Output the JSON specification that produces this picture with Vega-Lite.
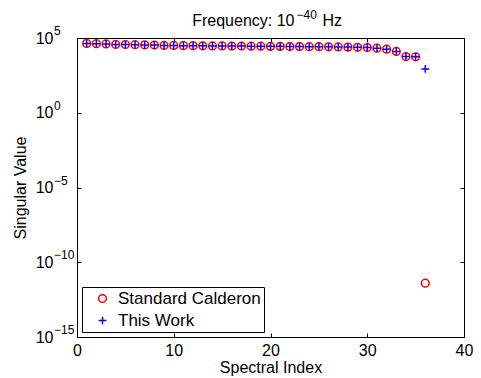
{
  "$schema": "https://vega.github.io/schema/vega-lite/v6.json",
  "width": 387,
  "height": 299,
  "autosize": "none",
  "padding": {"left": 77, "top": 38, "right": 17, "bottom": 41},
  "background": "white",
  "config": {
    "font": "Liberation Sans",
    "view": {"stroke": "black", "strokeWidth": 1},
    "axis": {
      "labelFont": "Liberation Sans",
      "labelFontSize": 16,
      "labelColor": "black",
      "titleFont": "Liberation Sans",
      "titleFontSize": 16,
      "titleFontWeight": "normal",
      "titleColor": "black",
      "domainColor": "black",
      "tickColor": "black",
      "grid": false,
      "tickSize": -4
    }
  },
  "datasets": {
    "sv": [
      {"series": "Standard Calderon", "index": 1, "value": 43650},
      {"series": "Standard Calderon", "index": 2, "value": 41690},
      {"series": "Standard Calderon", "index": 3, "value": 39810},
      {"series": "Standard Calderon", "index": 4, "value": 37150},
      {"series": "Standard Calderon", "index": 5, "value": 36310},
      {"series": "Standard Calderon", "index": 6, "value": 35480},
      {"series": "Standard Calderon", "index": 7, "value": 34670},
      {"series": "Standard Calderon", "index": 8, "value": 33880},
      {"series": "Standard Calderon", "index": 9, "value": 31620},
      {"series": "Standard Calderon", "index": 10, "value": 31620},
      {"series": "Standard Calderon", "index": 11, "value": 30900},
      {"series": "Standard Calderon", "index": 12, "value": 30900},
      {"series": "Standard Calderon", "index": 13, "value": 30200},
      {"series": "Standard Calderon", "index": 14, "value": 29510},
      {"series": "Standard Calderon", "index": 15, "value": 29510},
      {"series": "Standard Calderon", "index": 16, "value": 28840},
      {"series": "Standard Calderon", "index": 17, "value": 28840},
      {"series": "Standard Calderon", "index": 18, "value": 28180},
      {"series": "Standard Calderon", "index": 19, "value": 28180},
      {"series": "Standard Calderon", "index": 20, "value": 27540},
      {"series": "Standard Calderon", "index": 21, "value": 27540},
      {"series": "Standard Calderon", "index": 22, "value": 26920},
      {"series": "Standard Calderon", "index": 23, "value": 26920},
      {"series": "Standard Calderon", "index": 24, "value": 26300},
      {"series": "Standard Calderon", "index": 25, "value": 26300},
      {"series": "Standard Calderon", "index": 26, "value": 25700},
      {"series": "Standard Calderon", "index": 27, "value": 25120},
      {"series": "Standard Calderon", "index": 28, "value": 24550},
      {"series": "Standard Calderon", "index": 29, "value": 23990},
      {"series": "Standard Calderon", "index": 30, "value": 22910},
      {"series": "Standard Calderon", "index": 31, "value": 20890},
      {"series": "Standard Calderon", "index": 32, "value": 17780},
      {"series": "Standard Calderon", "index": 33, "value": 12590},
      {"series": "Standard Calderon", "index": 34, "value": 5750},
      {"series": "Standard Calderon", "index": 35, "value": 5500},
      {"series": "Standard Calderon", "index": 36, "value": 4e-12},
      {"series": "This Work", "index": 1, "value": 43650},
      {"series": "This Work", "index": 2, "value": 41690},
      {"series": "This Work", "index": 3, "value": 39810},
      {"series": "This Work", "index": 4, "value": 37150},
      {"series": "This Work", "index": 5, "value": 36310},
      {"series": "This Work", "index": 6, "value": 35480},
      {"series": "This Work", "index": 7, "value": 34670},
      {"series": "This Work", "index": 8, "value": 33880},
      {"series": "This Work", "index": 9, "value": 31620},
      {"series": "This Work", "index": 10, "value": 31620},
      {"series": "This Work", "index": 11, "value": 30900},
      {"series": "This Work", "index": 12, "value": 30900},
      {"series": "This Work", "index": 13, "value": 30200},
      {"series": "This Work", "index": 14, "value": 29510},
      {"series": "This Work", "index": 15, "value": 29510},
      {"series": "This Work", "index": 16, "value": 28840},
      {"series": "This Work", "index": 17, "value": 28840},
      {"series": "This Work", "index": 18, "value": 28180},
      {"series": "This Work", "index": 19, "value": 28180},
      {"series": "This Work", "index": 20, "value": 27540},
      {"series": "This Work", "index": 21, "value": 27540},
      {"series": "This Work", "index": 22, "value": 26920},
      {"series": "This Work", "index": 23, "value": 26920},
      {"series": "This Work", "index": 24, "value": 26300},
      {"series": "This Work", "index": 25, "value": 26300},
      {"series": "This Work", "index": 26, "value": 25700},
      {"series": "This Work", "index": 27, "value": 25120},
      {"series": "This Work", "index": 28, "value": 24550},
      {"series": "This Work", "index": 29, "value": 23990},
      {"series": "This Work", "index": 30, "value": 22910},
      {"series": "This Work", "index": 31, "value": 20890},
      {"series": "This Work", "index": 32, "value": 17780},
      {"series": "This Work", "index": 33, "value": 12590},
      {"series": "This Work", "index": 34, "value": 5750},
      {"series": "This Work", "index": 35, "value": 5500},
      {"series": "This Work", "index": 36, "value": 850}
    ],
    "exps": [
      {"tv": 1e5, "exp": "5"},
      {"tv": 1, "exp": "0"},
      {"tv": 1e-5, "exp": "−5"},
      {"tv": 1e-10, "exp": "−10"},
      {"tv": 1e-15, "exp": "−15"}
    ],
    "ttl": [
      {"a": "Frequency: 10", "b": "−40", "c": "Hz"}
    ]
  },
  "layer": [
    {
      "data": {"name": "sv"},
      "mark": {"type": "point", "filled": false, "strokeWidth": 1.5, "size": 60, "opacity": 1},
      "encoding": {
        "x": {"field": "index", "type": "quantitative", "scale": {"domain": [0, 40], "nice": false, "zero": false},
              "axis": {"title": "Spectral Index", "values": [0, 10, 20, 30, 40], "titlePadding": 1, "labelPadding": 9, "labelFlush": false}},
        "y": {"field": "value", "type": "quantitative", "scale": {"type": "log", "domain": [1e-15, 1e5], "nice": false},
              "axis": {"title": "Singular Value", "values": [1e-15, 1e-10, 1e-5, 1, 1e5], "titlePadding": 7, "labelPadding": 28, "labelFlush": false,
                       "labelExpr": "'10'"}},
        "color": {"field": "series", "type": "nominal",
                  "scale": {"domain": ["Standard Calderon", "This Work"], "range": ["#ff0000", "#0000ff"]},
                  "legend": {"title": null, "orient": "bottom-left", "offset": 5, "strokeColor": "black", "fillColor": "white", "padding": 3, "labelFontSize": 17, "labelFont": "Liberation Sans", "labelColor": "black", "symbolSize": 60, "symbolStrokeWidth": 1.5, "rowPadding": 4, "symbolOffset": 9, "labelOffset": 7, "labelLimit": 300}},
        "shape": {"field": "series", "type": "nominal",
                  "scale": {"domain": ["Standard Calderon", "This Work"], "range": ["circle", "M-1,0L1,0M0,-1L0,1"]},
                  "legend": null}
      }
    },
    {
      "data": {"name": "sv"},
      "mark": {"type": "point", "opacity": 0},
      "encoding": {
        "x": {"field": "index", "type": "quantitative", "axis": {"orient": "top", "labels": false, "title": null, "values": [0, 10, 20, 30, 40], "domain": false}},
        "y": {"field": "value", "type": "quantitative", "axis": {"orient": "right", "labels": false, "title": null, "values": [1e-15, 1e-10, 1e-5, 1, 1e5], "domain": false}}
      }
    },
    {
      "data": {"name": "exps"},
      "mark": {"type": "text", "align": "left", "baseline": "middle", "fontSize": 12, "font": "Liberation Sans", "color": "black", "dx": -23, "dy": -7},
      "encoding": {
        "x": {"datum": 0, "type": "quantitative", "axis": null},
        "y": {"field": "tv", "type": "quantitative", "axis": null},
        "text": {"field": "exp"}
      }
    },
    {
      "data": {"name": "ttl"},
      "mark": {"type": "text", "align": "right", "baseline": "alphabetic", "fontSize": 16, "font": "Liberation Sans", "color": "black", "dx": 24, "dy": -12},
      "encoding": {
        "x": {"datum": 20, "type": "quantitative", "axis": null},
        "y": {"datum": 100000, "type": "quantitative", "axis": null},
        "text": {"field": "a"}
      }
    },
    {
      "data": {"name": "ttl"},
      "mark": {"type": "text", "align": "left", "baseline": "alphabetic", "fontSize": 12, "font": "Liberation Sans", "color": "black", "dx": 26, "dy": -19},
      "encoding": {
        "x": {"datum": 20, "type": "quantitative", "axis": null},
        "y": {"datum": 100000, "type": "quantitative", "axis": null},
        "text": {"field": "b"}
      }
    },
    {
      "data": {"name": "ttl"},
      "mark": {"type": "text", "align": "left", "baseline": "alphabetic", "fontSize": 16, "font": "Liberation Sans", "color": "black", "dx": 52, "dy": -12},
      "encoding": {
        "x": {"datum": 20, "type": "quantitative", "axis": null},
        "y": {"datum": 100000, "type": "quantitative", "axis": null},
        "text": {"field": "c"}
      }
    }
  ],
  "resolve": {"axis": {"x": "independent", "y": "independent"}}
}
